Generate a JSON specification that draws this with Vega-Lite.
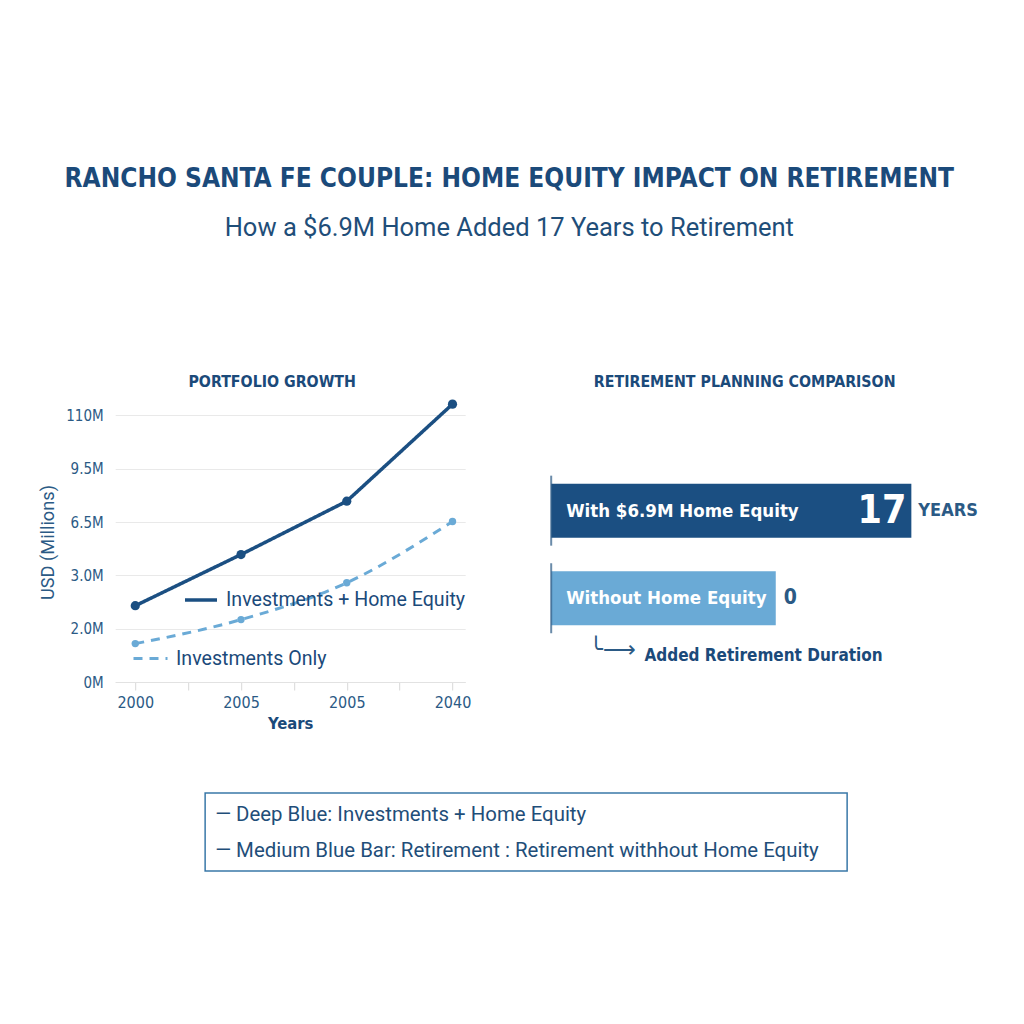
{
  "$schema": "https://vega.github.io/schema/vega-lite/v6.json",
  "background": "white",
  "padding": {"left": 38, "top": 165, "right": 2, "bottom": 10},
  "title": {
    "text": "RANCHO SANTA FE COUPLE: HOME EQUITY IMPACT ON RETIREMENT",
    "subtitle": "How a $6.9M Home Added 17 Years to Retirement",
    "font": "DejaVu Sans Condensed, Roboto",
    "fontSize": 26,
    "fontWeight": "bold",
    "color": "#1b4a7a",
    "subtitleFont": "Roboto",
    "subtitleFontSize": 25.5,
    "subtitleColor": "#1f4e79",
    "subtitlePadding": 24,
    "offset": 133,
    "dx": 1,
    "anchor": "middle"
  },
  "spacing": 60,
  "center": true,
  "vconcat": [
    {
      "spacing": 79,
      "hconcat": [
        {
          "title": {"text": "PORTFOLIO GROWTH", "font": "DejaVu Sans Condensed, Roboto", "fontSize": 15.8, "fontWeight": "bold", "color": "#1b4a7a", "dx": -18, "offset": 6},
          "width": 350,
          "height": 280,
          "data": {"values": [
            {"pos": 0, "year": "2000", "series": "Investments + Home Equity", "level": 1.43},
            {"pos": 1, "year": "2005", "series": "Investments + Home Equity", "level": 2.39},
            {"pos": 2, "year": "2005", "series": "Investments + Home Equity", "level": 3.39},
            {"pos": 3, "year": "2040", "series": "Investments + Home Equity", "level": 5.21},
            {"pos": 0, "year": "2000", "series": "Investments Only", "level": 0.72},
            {"pos": 1, "year": "2005", "series": "Investments Only", "level": 1.17},
            {"pos": 2, "year": "2005", "series": "Investments Only", "level": 1.86},
            {"pos": 3, "year": "2040", "series": "Investments Only", "level": 3.01}
          ]},
          "encoding": {
            "x": {"field": "pos", "type": "quantitative", "scale": {"domain": [-0.19, 3.12], "nice": false, "zero": false},
              "axis": {"values": [0, 0.5, 1, 1.5, 2, 2.5, 3], "labelExpr": "datum.value == 0 ? '2000' : datum.value == 1 ? '2005' : datum.value == 2 ? '2005' : datum.value == 3 ? '2040' : ''",
                "title": "Years", "grid": false, "tickColor": "#d8d8d8", "tickSize": 8, "domainColor": "#e2e2e2",
                "labelFontSize": 16, "labelColor": "#2b5a85", "labelPadding": 4, "labelFont": "DejaVu Sans Condensed, Roboto",
                "titleFontSize": 16.5, "titleFontWeight": "bold", "titleColor": "#1b4a7a", "titleFont": "DejaVu Sans Condensed, Roboto", "titlePadding": 5}},
            "y": {"field": "level", "type": "quantitative", "scale": {"domain": [0, 5.25], "nice": false},
              "axis": {"values": [0, 1, 2, 3, 4, 5], "labelExpr": "['0M','2.0M','3.0M','6.5M','9.5M','110M'][datum.value]",
                "title": "USD (Millions)", "grid": true, "gridColor": "#e9e9e9", "ticks": false, "domain": false,
                "labelFontSize": 15, "labelColor": "#2b5a85", "labelPadding": 12, "labelFont": "DejaVu Sans Condensed, Roboto",
                "titleFontSize": 18.2, "titleFontWeight": "normal", "titleColor": "#2b5a85", "titleFont": "Roboto", "titlePadding": 8}}
          },
          "layer": [
            {
              "transform": [{"filter": "datum.series == 'Investments + Home Equity'"}],
              "mark": {"type": "line", "strokeWidth": 3.5},
              "encoding": {
                "color": {"field": "series", "type": "nominal", "scale": {"domain": ["Investments + Home Equity", "Investments Only"], "range": ["#1b4f82", "#6aaad6"]},
                  "legend": {"values": ["Investments + Home Equity"], "orient": "none", "legendX": 68, "legendY": 180, "title": null, "padding": 0, "labelLimit": 400,
                    "symbolType": "stroke", "symbolSize": 1024, "symbolStrokeWidth": 3.5, "labelFont": "Roboto", "labelFontSize": 19.6, "labelColor": "#1b4a7a", "labelOffset": 7}},
                "strokeDash": {"field": "series", "type": "nominal", "scale": {"domain": ["Investments Only", "Investments + Home Equity"], "range": [[9, 7], [1, 0]]},
                  "legend": {"values": ["Investments Only"], "orient": "none", "legendX": 17, "legendY": 238, "title": null, "padding": 0, "labelLimit": 400,
                    "symbolType": "stroke", "symbolSize": 1156, "symbolStrokeWidth": 3, "symbolStrokeColor": "#6aaad6", "labelFont": "Roboto", "labelFontSize": 19.6, "labelColor": "#1b4a7a", "labelOffset": 7}}
              }
            },
            {
              "transform": [{"filter": "datum.series == 'Investments Only'"}],
              "mark": {"type": "line", "strokeWidth": 3, "interpolate": "monotone"},
              "encoding": {
                "color": {"field": "series", "type": "nominal"},
                "strokeDash": {"field": "series", "type": "nominal"}
              }
            },
            {
              "mark": {"type": "point", "filled": true, "opacity": 1},
              "encoding": {
                "color": {"field": "series", "type": "nominal"},
                "size": {"field": "series", "type": "nominal", "scale": {"domain": ["Investments + Home Equity", "Investments Only"], "range": [85, 55]}, "legend": null}
              }
            }
          ]
        },
        {
          "title": {"text": "RETIREMENT PLANNING COMPARISON", "font": "DejaVu Sans Condensed, Roboto", "fontSize": 15.8, "fontWeight": "bold", "color": "#1b4a7a", "dx": -3, "offset": 11},
          "width": 393,
          "height": 280,
          "data": {"values": [
            {"scenario": "With $6.9M Home Equity", "bar_value": 17, "years": 17},
            {"scenario": "Without Home Equity", "bar_value": 10.6, "years": 0}
          ]},
          "encoding": {
            "y": {"field": "scenario", "type": "nominal", "sort": null, "axis": null,
              "scale": {"paddingInner": 0.383, "paddingOuter": 0.79, "align": 0.59}}
          },
          "layer": [
            {
              "mark": {"type": "bar"},
              "encoding": {
                "x": {"field": "bar_value", "type": "quantitative", "scale": {"domain": [0, 18.55], "nice": false}, "axis": null},
                "color": {"field": "scenario", "type": "nominal", "scale": {"domain": ["With $6.9M Home Equity", "Without Home Equity"], "range": ["#2f6b9f", "#6aaad6"]}, "legend": null}
              }
            },
            {
              "mark": {"type": "tick", "thickness": 2, "size": 70, "color": "#2b5a85"},
              "encoding": {"x": {"datum": 0, "type": "quantitative"}}
            },
            {
              "mark": {"type": "text", "align": "left", "dx": 15, "font": "DejaVu Sans Condensed, Roboto", "fontSize": 18.5, "fontWeight": "bold", "color": "white"},
              "encoding": {"x": {"datum": 0, "type": "quantitative"}, "text": {"field": "scenario"}}
            },
            {
              "transform": [{"filter": "datum.years > 0"}],
              "mark": {"type": "text", "align": "right", "dx": -5, "font": "DejaVu Sans Condensed, Roboto", "fontSize": 39, "fontWeight": "bold", "color": "white"},
              "encoding": {"x": {"field": "bar_value", "type": "quantitative"}, "text": {"field": "years"}}
            },
            {
              "transform": [{"filter": "datum.years > 0"}],
              "mark": {"type": "text", "align": "left", "dx": 7, "font": "DejaVu Sans Condensed, Roboto", "fontSize": 18, "fontWeight": "bold", "color": "#2b5a85", "text": "YEARS"},
              "encoding": {"x": {"field": "bar_value", "type": "quantitative"}}
            },
            {
              "transform": [{"filter": "datum.years == 0"}],
              "mark": {"type": "text", "align": "left", "dx": 8, "font": "DejaVu Sans Condensed, Roboto", "fontSize": 21, "fontWeight": "bold", "color": "#2b5a85"},
              "encoding": {"x": {"field": "bar_value", "type": "quantitative"}, "text": {"field": "years"}}
            },
            {
              "data": {"values": [{"arrow": "╰⟶"}]},
              "mark": {"type": "text", "align": "left", "dy": 52, "font": "DejaVu Sans", "fontSize": 23, "color": "#2b5a85"},
              "encoding": {"x": {"datum": 1.78, "type": "quantitative"}, "y": {"datum": "Without Home Equity"}, "text": {"field": "arrow"}}
            },
            {
              "data": {"values": [{"note": "Added Retirement Duration"}]},
              "mark": {"type": "text", "align": "left", "dy": 58, "font": "DejaVu Sans Condensed, Roboto", "fontSize": 17, "fontWeight": "bold", "color": "#1b4a7a"},
              "encoding": {"x": {"datum": 4.4, "type": "quantitative"}, "y": {"datum": "Without Home Equity"}, "text": {"field": "note"}}
            }
          ]
        }
      ]
    },
    {
      "width": 642,
      "height": 78,
      "view": {"stroke": "#3a78a8", "strokeWidth": 1.5},
      "data": {"values": [
        {"line": 1, "text": "— Deep Blue: Investments + Home Equity"},
        {"line": 2, "text": "— Medium Blue Bar: Retirement  : Retirement withhout Home Equity"}
      ]},
      "mark": {"type": "text", "align": "left", "dx": 10, "dy": 1, "font": "Roboto", "fontSize": 20.4, "color": "#1f4e79"},
      "encoding": {
        "x": {"datum": 0, "type": "quantitative", "scale": {"domain": [0, 1]}, "axis": null},
        "y": {"field": "line", "type": "ordinal", "scale": {"type": "point", "padding": 0.614},
          "axis": {"orient": "right", "labels": false, "ticks": false, "grid": false, "domain": true, "domainColor": "white", "offset": 40, "title": null}},
        "text": {"field": "text"}
      }
    }
  ],
  "config": {
    "view": {"stroke": null},
    "font": "Roboto"
  }
}
